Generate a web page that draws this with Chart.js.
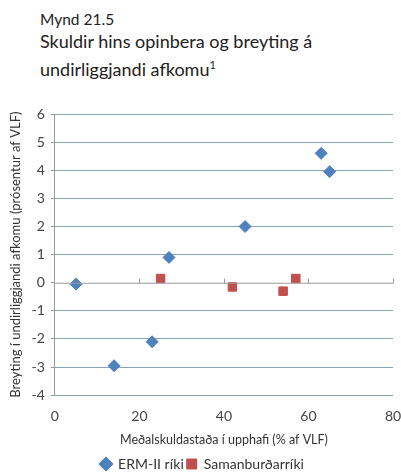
<!DOCTYPE html>
<html>
<head>
<meta charset="utf-8">
<script src="https://cdn.jsdelivr.net/npm/chart.js@4.4.1/dist/chart.umd.min.js"></script>
<style>
  html, body { margin: 0; background: #fff; font-family: Lato, "Open Sans", sans-serif; color: #222; overflow: hidden; }
  #wrap { position: relative; width: 401px; height: 473px; overflow: hidden; }
  .sub { position: absolute; left: 40px; top: 10px; font-size: 15.5px; }
  .title { position: absolute; left: 40px; top: 29px; font-size: 18px; line-height: 24px; }
  #box { position: absolute; left: 0; top: 95px; width: 401px; height: 386px; }
</style>
</head>
<body>
<div id="wrap">
  <div class="sub">Mynd 21.5</div>
  <div class="title">Skuldir hins opinbera og breyting á<br>undirliggjandi afkomu<sup style="font-size:11px">1</sup></div>
  <div id="box"><canvas id="c"></canvas></div>
</div>
<script>
// ERM-II ríki
const ermX = [5, 14, 23, 27, 45, 63, 65];
const ermY = [-0.05, -2.95, -2.1, 0.9, 2.0, 4.6, 3.95];
// Samanburðarríki
const samX = [25, 42, 54, 57];
const samY = [0.15, -0.15, -0.3, 0.15];

const seriesNames = ['ERM-II ríki', 'Samanburðarríki'];
const xTitle = 'Meðalskuldastaða í upphafi (% af VLF)';
const yTitle = 'Breyting í undirliggjandi afkomu (prósentur af VLF)';

const toPts = (xs, ys) => xs.map((x, i) => ({ x: x, y: ys[i] }));

// x-ás liggur við y=0 eins og í Excel
const zeroAxis = {
  id: 'zeroAxis',
  afterDatasetsDraw(chart) {
    const { ctx, scales: { x, y } } = chart;
    const y0 = y.getPixelForValue(0);
    ctx.save();
    ctx.strokeStyle = '#9a9a9a';
    ctx.lineWidth = 1;
    ctx.beginPath();
    ctx.moveTo(x.left, y0 + 0.5);
    ctx.lineTo(x.right, y0 + 0.5);
    [20, 40, 60, 80].forEach(v => {
      const px = Math.round(x.getPixelForValue(v)) + 0.5;
      ctx.moveTo(px, y0 - 4);
      ctx.lineTo(px, y0 + 1);
    });
    ctx.stroke();
    ctx.restore();
  }
};

new Chart(document.getElementById('c'), {
  type: 'scatter',
  data: {
    datasets: [
      {
        label: seriesNames[0],
        data: toPts(ermX, ermY),
        pointStyle: 'rectRot',
        pointRadius: 6,
        backgroundColor: '#4f81bd',
        borderColor: '#4f81bd'
      },
      {
        label: seriesNames[1],
        data: toPts(samX, samY),
        pointStyle: 'rect',
        pointRadius: 6,
        backgroundColor: '#c0504d',
        borderColor: '#c0504d'
      }
    ]
  },
  plugins: [zeroAxis],
  options: {
    responsive: true,
    maintainAspectRatio: false,
    animation: false,
    layout: { padding: { left: 4, right: 0, top: 19, bottom: 0 } },
    plugins: {
      tooltip: { enabled: false },
      legend: {
        position: 'bottom',
        labels: {
          usePointStyle: true,
          boxWidth: 10,
          boxHeight: 10,
          padding: 3,
          color: '#333',
          font: { family: 'Lato', size: 14 }
        }
      }
    },
    scales: {
      x: {
        min: 0,
        max: 80,
        afterFit: s => { s.paddingRight = 8; },
        ticks: { stepSize: 20, color: '#444', font: { family: 'Lato', size: 14 }, padding: 13 },
        grid: { display: false, drawTicks: false },
        border: { display: false },
        title: { display: true, text: xTitle, color: '#333', font: { family: 'Lato', size: 12.5 }, padding: { top: -6, bottom: 7 } }
      },
      y: {
        min: -4,
        max: 6,
        ticks: { stepSize: 1, color: '#444', font: { family: 'Lato', size: 14 }, padding: 6 },
        grid: {
          color: ctx => ctx.tick && ctx.tick.value === 0 ? 'rgba(0,0,0,0)' : '#8aa2b8',
          tickColor: '#9a9a9a',
          tickLength: 4
        },
        border: { display: true, color: '#9a9a9a' },
        title: { display: true, text: yTitle, color: '#333', font: { family: 'Lato', size: 13 }, padding: { bottom: 2 } }
      }
    }
  }
});
</script>
</body>
</html>
